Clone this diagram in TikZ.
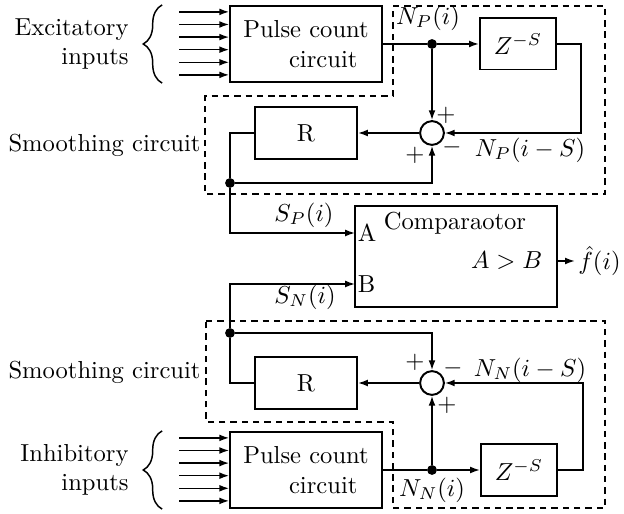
\documentclass[tikz,border=0pt]{standalone}
\usepackage{tikz}
\usetikzlibrary{arrows.meta, positioning, calc, decorations.pathreplacing}

\begin{document}
\begin{tikzpicture}[
    x=0.0143cm, y=0.0143cm,
    % Define styles
    pulse/.style={
        draw=black,
        thick,
        minimum width=2.17cm,
        minimum height=1.09cm,
        align=center
    },
    delay/.style={
        draw=black,
        thick,
        minimum width=1.09cm,
        minimum height=0.73cm
    },
    filter/.style={
        draw=black,
        thick,
        minimum width=1.46cm,
        minimum height=0.73cm
    },
    compare/.style={
        draw=black,
        thick,
        minimum width=2.89cm,
        minimum height=1.44cm
    },
    summer/.style={
        draw=black,
        thick,
        circle,
        minimum size=0.34cm,
        inner sep=0pt
    },
    junction/.style={
        circle,
        fill=black,
        minimum size=4pt,
        inner sep=0pt
    },
    arrow/.style={
        -{Latex[length=4pt, width=2.8pt]},
        semithick
    },
    wire/.style={
        semithick
    },
    region/.style={
        semithick,
        dash pattern=on 2.6pt off 2pt
    },
    brace/.style={
        decorate,
        decoration={brace, amplitude=0.27cm},
        semithick
    },
    sidelabel/.style={
        anchor=east,
        align=right,
        inner sep=0pt
    },
    port/.style={
        anchor=west,
        inner sep=1pt
    }
]
\useasboundingbox (0,0) rectangle (624,514);

% ============================================================
% Excitatory channel (top)
% ============================================================
\node[pulse] (pulseP) at (306,470) {Pulse count\\\hspace*{1.4em}circuit};
\node[sidelabel] (excLabel) at (129,470) {Excitatory\\inputs};
\draw[brace] ($(pulseP.south west)+(-67,0)$) -- ($(pulseP.north west)+(-67,0)$);
\foreach \k in {0,...,5}
    \draw[arrow] ($(pulseP.north west)+(-50,-7-12.6*\k)$) -- ($(pulseP.north west)+(0,-7-12.6*\k)$);

\node[junction] (jP) at (432,470) {};
\node[delay] (zP) at (518,470) {$Z^{-S}$};
\node[summer] (sP) at (432,381) {};
\node[filter] (rP) at (306,381) {R};
\node[junction] (dP) at (230,331) {};

\draw[wire] (pulseP.east) -- (jP);
\draw[arrow] (jP) -- (zP.west);
\draw[arrow] (jP) -- (sP.north);
\draw[arrow] (zP.east) -- ++(24,0) |- (sP.east);
\draw[arrow] (sP.west) -- (rP.east);
\draw[wire] (rP.west) -| (dP);
\draw[arrow] (dP) -| (sP.south);

\node (npLabel) at (428,496) {$N_P(i)$};
\node (npsLabel) at (530,364) {$N_P(i-S)$};
\node (plusP1) at (446,399) {$+$};
\node (minusP) at (452,367) {$-$};
\node (plusP2) at (415,359) {$+$};
\node[sidelabel] (smoothP) at (201,369) {Smoothing circuit};

\draw[region] (393,508) -- (605,508) -- (605,320) -- (205,320) -- (205,418) -- (393,418) -- cycle;

% ============================================================
% Comparator
% ============================================================
\node[compare] (comp) at (456,257.5) {};
\node[port] (inA) at (355,281) {A};
\node[port] (inB) at (355,230) {B};
\node (compLabel) at (455,291) {Comparaotor};
\node[anchor=east] (gtLabel) at (551,253) {$A>B$};
\node[anchor=east, inner sep=1.2pt] (fout) at (624,253) {$\hat{f}(i)$};

\draw[arrow] (dP) |- (inA.west);
\draw[arrow] (comp.east |- fout.west) -- (fout.west);

\node (spLabel) at (304,299) {$S_P(i)$};
\node (snLabel) at (305,217) {$S_N(i)$};

% ============================================================
% Inhibitory channel (bottom)
% ============================================================
\node[pulse] (pulseN) at (306,44) {Pulse count\\\hspace*{1.4em}circuit};
\node[sidelabel] (inhLabel) at (129,44) {Inhibitory\\inputs};
\draw[brace] ($(pulseN.south west)+(-67,0)$) -- ($(pulseN.north west)+(-67,0)$);
\foreach \k in {0,...,5}
    \draw[arrow] ($(pulseN.north west)+(-50,-7-12.6*\k)$) -- ($(pulseN.north west)+(0,-7-12.6*\k)$);

\node[junction] (jN) at (432,44) {};
\node[delay] (zN) at (519,44) {$Z^{-S}$};
\node[summer] (sN) at (432,131) {};
\node[filter] (rN) at (306,131) {R};
\node[junction] (dN) at (230,181) {};

\draw[wire] (pulseN.east) -- (jN);
\draw[arrow] (jN) -- (zN.west);
\draw[arrow] (jN) -- (sN.south);
\draw[arrow] (zN.east) -- ++(25,0) |- (sN.east);
\draw[arrow] (sN.west) -- (rN.east);
\draw[wire] (rN.west) -| (dN);
\draw[arrow] (dN) -| (sN.north);
\draw[arrow] (dN) |- (inB.west);

\node (nnLabel) at (432,24) {$N_N(i)$};
\node (nnsLabel) at (530,144) {$N_N(i-S)$};
\node (plusN1) at (415,152) {$+$};
\node (minusN) at (453,146) {$-$};
\node (plusN2) at (447,109) {$+$};
\node[sidelabel] (smoothN) at (201,142) {Smoothing circuit};

\draw[region] (206,193) -- (605,193) -- (605,6) -- (393,6) -- (393,92) -- (206,92) -- cycle;

\end{tikzpicture}
\end{document}
